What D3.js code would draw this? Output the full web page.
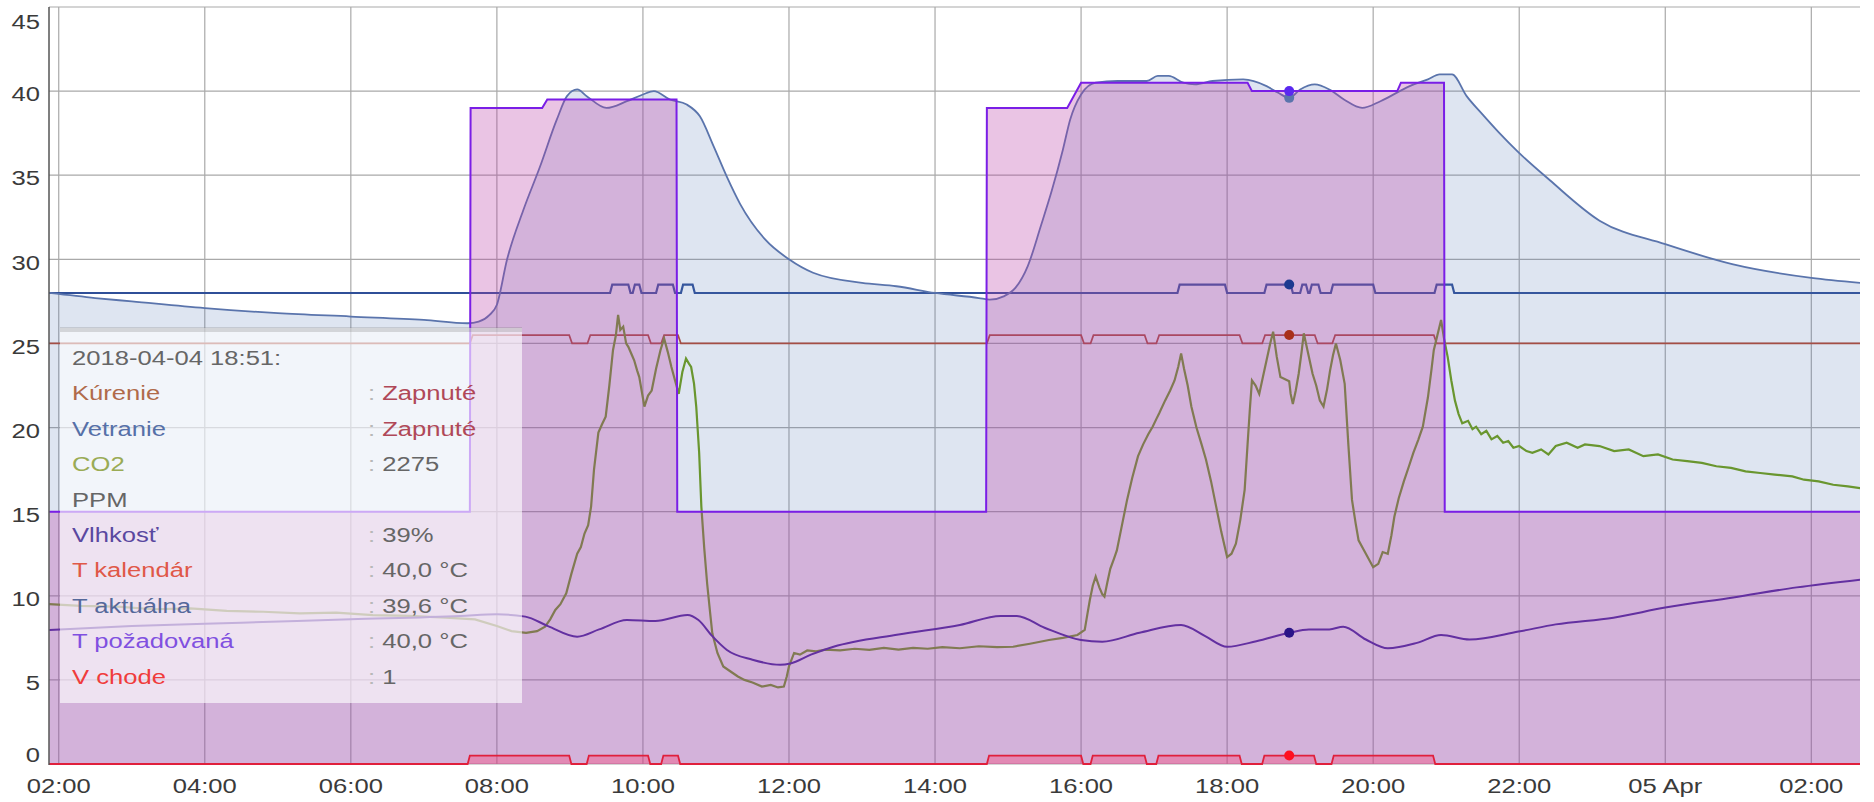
<!DOCTYPE html>
<html><head><meta charset="utf-8">
<script src="https://cdn.jsdelivr.net/npm/d3@7"></script>
<style>
html,body{margin:0;padding:0;background:#fff;}
svg{display:block;}
text{font-family:"Liberation Sans",Arial,sans-serif;}
</style></head>
<body><svg id="c" width="1874" height="802"></svg>
<script>
// ---------- DATA (hours of 2018-04-04; >24 = next day) ----------
const startHour = 1 + 52/60, endHour = 26 + 40/60;
const yTicks = [0,5,10,15,20,25,30,35,40,45];

const tAktualna = [[1.87,28.0],[2.5,27.7],[3.0,27.5],[4.0,27.1],[5.0,26.8],[6.0,26.6],[7.0,26.4],[7.6,26.2],[7.75,26.3],[7.9,26.7],[8.0,27.3],[8.14,30.0],[8.36,32.9],[8.59,35.5],[8.82,38.3],[8.96,39.7],[9.1,40.1],[9.23,39.7],[9.5,39.0],[9.78,39.4],[10.0,39.8],[10.15,40.0],[10.37,39.5],[10.6,39.2],[10.78,38.5],[10.97,36.7],[11.15,34.9],[11.33,33.3],[11.67,31.2],[12.0,30.0],[12.33,29.2],[13.0,28.6],[13.47,28.4],[14.0,28.0],[14.6,27.7],[14.75,27.6],[14.94,27.8],[15.1,28.3],[15.27,29.6],[15.45,32.0],[15.6,34.1],[15.75,36.5],[15.85,38.3],[16.0,39.8],[16.2,40.5],[16.5,40.6],[16.9,40.6],[17.05,40.9],[17.2,40.9],[17.4,40.5],[17.56,40.4],[17.8,40.6],[18.22,40.7],[18.54,40.3],[18.7,39.9],[18.85,39.6],[19.0,40.1],[19.2,40.4],[19.4,40.1],[19.6,39.5],[19.85,39.0],[20.1,39.4],[20.5,40.3],[20.75,40.7],[20.91,41.0],[21.08,41.0],[21.28,39.7],[21.5,38.6],[21.73,37.5],[21.98,36.4],[22.42,34.7],[23.1,32.3],[24.0,30.9],[24.93,29.7],[26.0,28.9],[26.67,28.6]];

const tPozadovana = [[1.87,15],[7.63,15],[7.64,39],[8.62,39],[8.69,39.5],[10.46,39.5],[10.47,15],[14.70,15],[14.71,39],[15.81,39],[16.0,40.5],[18.28,40.5],[18.34,40],[20.33,40],[20.38,40.5],[20.97,40.5],[20.98,15],[26.67,15]];

const vlhkost = [[1.87,7.97],[3.0,8.2],[4.5,8.4],[6.0,8.6],[7.5,8.8],[8.0,8.9],[8.39,8.76],[8.7,8.2],[9.1,7.57],[9.4,8.0],[9.78,8.56],[10.17,8.5],[10.61,8.86],[10.76,8.56],[10.95,7.6],[11.15,6.78],[11.5,6.2],[11.88,5.9],[12.02,5.98],[12.3,6.5],[12.61,6.97],[13.5,7.7],[14.34,8.26],[14.9,8.8],[15.12,8.8],[15.5,8.1],[16.0,7.37],[16.29,7.27],[16.8,7.8],[17.37,8.26],[17.7,7.6],[18.0,6.97],[18.4,7.3],[18.85,7.8],[19.12,8.0],[19.4,8.0],[19.59,8.16],[19.9,7.4],[20.2,6.88],[20.6,7.2],[20.93,7.67],[21.32,7.4],[21.99,7.87],[22.5,8.3],[23.29,8.7],[24.0,9.3],[24.93,9.9],[25.8,10.5],[26.67,10.96]];

const co2 = [[1.87,9.5],[2.3,9.4],[2.8,9.35],[3.3,9.2],[3.8,9.25],[4.3,9.1],[4.8,9.05],[5.3,8.95],[5.8,9.0],[6.3,8.85],[6.8,8.8],[7.3,8.7],[7.7,8.6],[8.0,8.2],[8.2,7.9],[8.4,7.8],[8.55,7.9],[8.66,8.16],[8.73,8.6],[8.8,9.16],[8.87,9.5],[8.95,10.15],[9.02,11.3],[9.1,12.5],[9.15,12.9],[9.2,13.7],[9.25,14.2],[9.29,15.3],[9.33,17.5],[9.39,19.7],[9.44,20.2],[9.49,20.65],[9.54,22.5],[9.59,24.6],[9.63,25.5],[9.66,26.7],[9.69,25.8],[9.73,26.0],[9.77,25.0],[9.8,24.8],[9.85,24.3],[9.88,24.0],[9.92,23.4],[9.95,23.0],[9.99,22.0],[10.02,21.25],[10.07,21.9],[10.12,22.2],[10.18,23.5],[10.24,24.6],[10.29,25.3],[10.34,24.5],[10.39,23.6],[10.44,22.8],[10.49,22.0],[10.54,23.3],[10.59,24.1],[10.63,23.8],[10.66,23.6],[10.7,22.6],[10.73,21.25],[10.77,18.5],[10.8,15.3],[10.84,12.8],[10.88,10.7],[10.92,9.0],[10.95,7.77],[11.02,6.6],[11.1,5.8],[11.2,5.5],[11.3,5.2],[11.39,5.0],[11.5,4.85],[11.63,4.6],[11.75,4.7],[11.85,4.55],[11.93,4.6],[11.97,5.2],[12.0,5.8],[12.07,6.6],[12.15,6.5],[12.25,6.75],[12.37,6.7],[12.5,6.8],[12.7,6.75],[12.9,6.85],[13.1,6.78],[13.3,6.9],[13.5,6.8],[13.7,6.9],[13.9,6.85],[14.1,6.95],[14.34,6.88],[14.6,7.0],[14.85,6.95],[15.07,6.97],[15.3,7.15],[15.56,7.37],[15.75,7.5],[15.95,7.67],[16.05,7.97],[16.09,9.0],[16.12,9.75],[16.16,10.6],[16.2,11.14],[16.25,10.5],[16.29,10.1],[16.32,9.95],[16.36,10.8],[16.4,11.6],[16.45,12.2],[16.49,12.7],[16.56,14.2],[16.63,15.7],[16.7,17.0],[16.78,18.3],[16.85,19.0],[16.92,19.6],[16.98,20.05],[17.03,20.5],[17.07,20.85],[17.15,21.6],[17.22,22.2],[17.28,22.8],[17.33,23.6],[17.37,24.4],[17.41,23.5],[17.46,22.5],[17.51,21.25],[17.58,20.0],[17.65,19.0],[17.71,18.1],[17.78,16.8],[17.85,15.3],[17.92,13.8],[18.0,12.3],[18.06,12.5],[18.12,13.1],[18.18,14.5],[18.24,16.3],[18.28,19.0],[18.31,21.0],[18.34,22.8],[18.39,22.5],[18.44,22.0],[18.49,23.0],[18.54,24.0],[18.59,25.0],[18.63,25.7],[18.68,24.2],[18.73,23.0],[18.78,22.9],[18.85,22.75],[18.87,22.0],[18.9,21.4],[18.94,22.2],[18.98,23.2],[19.02,24.5],[19.05,25.6],[19.1,24.6],[19.17,23.2],[19.22,22.5],[19.27,21.6],[19.32,21.25],[19.37,22.3],[19.41,23.4],[19.45,24.3],[19.49,25.0],[19.55,24.0],[19.61,22.6],[19.66,19.0],[19.71,15.7],[19.76,14.3],[19.8,13.3],[19.9,12.5],[20.0,11.7],[20.07,11.9],[20.13,12.6],[20.2,12.5],[20.25,13.6],[20.29,14.7],[20.35,15.8],[20.42,16.8],[20.49,17.7],[20.55,18.5],[20.62,19.3],[20.68,20.05],[20.75,21.8],[20.8,23.5],[20.83,24.6],[20.88,25.5],[20.93,26.4],[20.97,25.3],[21.02,24.2],[21.07,22.8],[21.12,21.6],[21.17,20.8],[21.22,20.25],[21.3,20.4],[21.36,19.9],[21.41,20.05],[21.48,19.6],[21.55,19.8],[21.62,19.3],[21.7,19.5],[21.78,19.1],[21.85,19.2],[21.92,18.8],[22.0,18.9],[22.1,18.6],[22.18,18.5],[22.3,18.7],[22.4,18.4],[22.5,18.9],[22.65,19.1],[22.8,18.8],[22.9,19.0],[23.1,18.9],[23.3,18.6],[23.5,18.7],[23.7,18.3],[23.9,18.4],[24.1,18.1],[24.3,18.0],[24.5,17.9],[24.7,17.7],[24.9,17.6],[25.1,17.4],[25.3,17.3],[25.5,17.2],[25.74,17.1],[25.9,16.9],[26.1,16.8],[26.3,16.6],[26.5,16.5],[26.67,16.4]];

// on/off intervals (hours) and their plotted levels
const kurenieOn  = [[7.63,8.99],[9.24,10.07],[10.25,10.48],[14.71,16.0],[16.13,16.87],[17.03,18.17],[18.48,19.2],[19.44,20.83]];
const kurenieLevels = [25, 25.5];
const vetranieOn = [[9.55,9.80],[9.86,9.95],[10.18,10.41],[10.52,10.68],[17.32,17.97],[18.51,18.87],[19.0,19.08],[19.13,19.25],[19.42,20.0],[20.84,21.08]];
const vetranieLevels = [28, 28.5];
const vChodeOn   = [[7.6,8.99],[9.23,10.07],[10.25,10.48],[14.71,16.0],[16.13,16.87],[17.03,18.17],[18.48,19.19],[19.43,20.82]];
const vChodeLevels = [0, 0.5];

const hoverHour = 18.85;
const tooltipRows = [
  ["2018-04-04 18:51:", "", "#666666", "#666666"],
  ["Kúrenie", "Zapnuté", "#b06a4a", "#b04858"],
  ["Vetranie", "Zapnuté", "#5670a8", "#b04858"],
  ["CO2", "2275", "#9aab55", "#666666"],
  ["PPM", "", "#666666", "#666666"],
  ["Vlhkosť", "39%", "#5a48a0", "#666666"],
  ["T kalendár", "40,0 °C", "#e05848", "#666666"],
  ["T aktuálna", "39,6 °C", "#55689a", "#666666"],
  ["T požadovaná", "40,0 °C", "#8050e0", "#666666"],
  ["V chode", "1", "#f03c3c", "#666666"]
];

// ---------- SCALES ----------
const base = Date.UTC(2018,3,4);
const toDate = h => new Date(base + h*3600000);
const L = 49, R = 1860, T = 7, B = 764;
const x = d3.scaleUtc().domain([toDate(startHour), toDate(endHour)]).range([L,R]);
const y = d3.scaleLinear().domain([0,45]).range([B,T]);
const svg = d3.select("#c");

function stepSeries(intervals, levels, ramp){
  const pts = [[startHour, levels[0]]];
  intervals.forEach(([a,b])=>{
    pts.push([a,levels[0]],[a+ramp,levels[1]],[b,levels[1]],[b+ramp,levels[0]]);
  });
  pts.push([endHour, levels[0]]);
  return pts;
}
const kurenie = stepSeries(kurenieOn, kurenieLevels, 0.04);
const vetranie = stepSeries(vetranieOn, vetranieLevels, 0.03);
const vChode = stepSeries(vChodeOn, vChodeLevels, 0.03);

svg.append("defs").append("clipPath").attr("id","clip")
  .append("rect").attr("x",L).attr("y",T-2).attr("width",R-L).attr("height",B-T+3);

// ---------- GRID ----------
const xt = x.ticks(d3.utcHour.every(2));
const grid = svg.append("g");
grid.selectAll("line.v").data(xt).join("line")
  .attr("x1",d=>x(d)).attr("x2",d=>x(d)).attr("y1",T).attr("y2",B)
  .attr("stroke","#a9a9a9").attr("stroke-width",1.2);
grid.selectAll("line.h").data(yTicks).join("line")
  .attr("x1",L).attr("x2",R).attr("y1",d=>y(d)).attr("y2",d=>y(d))
  .attr("stroke","#a9a9a9").attr("stroke-width",1.2);

// ---------- SERIES ----------
const plot = svg.append("g").attr("clip-path","url(#clip)");
const line = d3.line().x(d=>x(toDate(d[0]))).y(d=>y(d[1]));
const smooth = d3.line().x(d=>x(toDate(d[0]))).y(d=>y(d[1])).curve(d3.curveMonotoneX);
const area = d3.area().x(d=>x(toDate(d[0]))).y0(y(0)).y1(d=>y(d[1]));
const smoothArea = d3.area().x(d=>x(toDate(d[0]))).y0(y(0)).y1(d=>y(d[1])).curve(d3.curveMonotoneX);

plot.append("path").attr("d",line(kurenie)).attr("fill","none").attr("stroke","#b8452c").attr("stroke-width",1.8);
plot.append("path").attr("d",line(vetranie)).attr("fill","none").attr("stroke","#2f4f98").attr("stroke-width",2.2);
plot.append("path").attr("d",line(co2)).attr("fill","none").attr("stroke","#6f9e10").attr("stroke-width",2.2);
plot.append("path").attr("d",smooth(vlhkost)).attr("fill","none").attr("stroke","#3a1a9a").attr("stroke-width",2);

plot.append("path").attr("d",smoothArea(tAktualna)).attr("fill","rgba(80,115,180,0.19)");
plot.append("path").attr("d",smooth(tAktualna)).attr("fill","none").attr("stroke","#5a74ac").attr("stroke-width",1.8);

plot.append("path").attr("d",area(tPozadovana)).attr("fill","rgba(185,60,165,0.30)");
plot.append("path").attr("d",line(tPozadovana)).attr("fill","none").attr("stroke","#7a1ee6").attr("stroke-width",2);

plot.append("path").attr("d",area(vChode)).attr("fill","rgba(255,60,110,0.35)");
plot.append("path").attr("d",line(vChode)).attr("fill","none").attr("stroke","#e0203c").attr("stroke-width",1.8);

// axis line left
svg.append("line").attr("x1",L).attr("x2",L).attr("y1",T).attr("y2",B+1).attr("stroke","#555").attr("stroke-width",1.5);

// ---------- HOVER DOTS ----------
function valAt(arr,h){
  for(let i=1;i<arr.length;i++){ if(arr[i][0]>=h){const a=arr[i-1],b=arr[i];const t=(h-a[0])/(b[0]-a[0]||1);return a[1]+t*(b[1]-a[1]);} }
  return arr[arr.length-1][1];
}
const dots = [[kurenie,"#a8301a"],[vetranie,"#1c3a90"],[vlhkost,"#2a1488"],[tAktualna,"#5a74ac"],[tPozadovana,"#5a28f0"],[vChode,"#ff1020"]];
dots.forEach(([arr,c])=>{
  svg.append("circle").attr("cx",x(toDate(hoverHour))).attr("cy",y(valAt(arr,hoverHour))).attr("r",5).attr("fill",c);
});

// ---------- AXES LABELS ----------
const lab = svg.append("g").attr("fill","#3a3a3a").style("font-size","21px");
yTicks.forEach(v=>{
  const cy = Math.max(22, Math.min(755, y(v)+3));
  lab.append("text").attr("transform",`translate(40,${cy}) scale(1.22,1)`).attr("text-anchor","end")
    .attr("dominant-baseline","central").text(v);
});
const fmt = d => d.getUTCHours()===0 ? d3.utcFormat("%d %b")(d) : d3.utcFormat("%H:%M")(d);
xt.forEach(d=>{
  lab.append("text").attr("transform",`translate(${x(d)},786) scale(1.22,1)`).attr("text-anchor","middle")
    .attr("dominant-baseline","central").text(fmt(d));
});

// ---------- TOOLTIP ----------
const tt = svg.append("g");
tt.append("rect").attr("x",60).attr("y",328).attr("width",462).attr("height",375)
  .attr("fill","rgba(255,255,255,0.62)");
tt.append("rect").attr("x",60).attr("y",327).attr("width",462).attr("height",5).attr("fill","rgba(120,120,120,0.25)");
tooltipRows.forEach((r,i)=>{
  const cy = 358 + i*35.4;
  tt.append("text").attr("transform",`translate(72,${cy}) scale(1.28,1)`).attr("dominant-baseline","central")
    .style("font-size","20px").attr("fill",r[2]).text(r[0]);
  if(i>0 && r[1]!==""){
    const t = tt.append("text").attr("transform",`translate(368,${cy}) scale(1.28,1)`).attr("dominant-baseline","central").style("font-size","20px");
    t.append("tspan").attr("fill","#b8b8b8").text(": ");
    t.append("tspan").attr("fill",r[3]).text(r[1]);
  }
});
</script></body></html>
